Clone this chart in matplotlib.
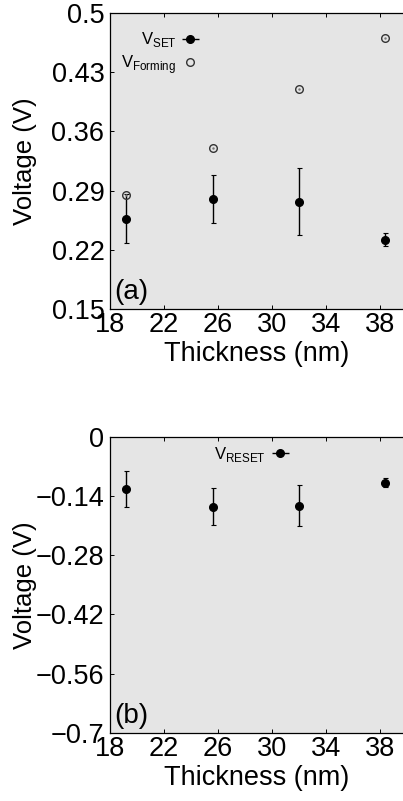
import matplotlib
matplotlib.use("Agg")
import matplotlib.pyplot as plt
from matplotlib.ticker import FuncFormatter

plt.rcParams['font.family'] = ['Liberation Sans', 'DejaVu Sans']

# thickness of the films (nm)
thick = [19.2, 25.6, 32.0, 38.4]

# panel (a): set and forming voltages
v_set = [0.257, 0.280, 0.277, 0.232]
v_set_err = [0.029, 0.028, 0.040, 0.008]
v_forming = [0.285, 0.340, 0.410, 0.470]

# panel (b): reset voltage
v_reset = [-0.124, -0.165, -0.163, -0.109]
v_reset_err = [0.042, 0.043, 0.048, 0.011]

a_ticks = [0.15, 0.22, 0.29, 0.36, 0.43, 0.5]
b_ticks = [-0.7, -0.56, -0.42, -0.28, -0.14, 0]
x_ticks = [18, 22, 26, 30, 34, 38]


def fmt(v, pos):
    return ('%g' % round(v, 2)).replace('-', '\u2212')


fig = plt.figure(figsize=(4.03, 8.01), dpi=100)
ax1 = fig.add_axes([0.273, 0.6142, 0.727, 0.3696])
ax2 = fig.add_axes([0.273, 0.0849, 0.727, 0.3699])

for ax in (ax1, ax2):
    ax.set_facecolor('#e5e5e5')
    ax.set_xlim(18, 39.7)
    ax.set_xticks(x_ticks)
    ax.spines['right'].set_visible(False)
    for s in ('left', 'bottom', 'top'):
        ax.spines[s].set_linewidth(0.9)
    ax.tick_params(direction='in', length=3, width=0.7, top=True, labelsize=19.5, pad=2)
    ax.tick_params(axis='y', pad=4)
    ax.yaxis.set_major_formatter(FuncFormatter(fmt))
    ax.set_xlabel('Thickness (nm)', fontsize=19.5, labelpad=2)
    ax.set_ylabel('Voltage (V)', fontsize=18.5)
    ax.yaxis.set_label_coords(-0.249, 0.5)

# (a)
ax1.errorbar(thick, v_set, yerr=v_set_err, fmt='o', color='black', ms=5.5,
             elinewidth=1, capsize=1.8, capthick=0.8)
ax1.plot(thick, v_forming, 'o', mfc='none', mec='#333333', mew=1, ms=5.5)
ax1.plot(thick, v_forming, '.', color='#777777', ms=1.5)
ax1.set_ylim(0.15, 0.5)
ax1.set_yticks(a_ticks)
h_set = ax1.errorbar([], [], xerr=[], fmt='o', color='black', ms=5.5,
                     elinewidth=1, capsize=1.8, capthick=0.8)
h_form, = ax1.plot([], [], 'o', mfc='none', mec='#333333', mew=1, ms=5.5)
ax1.legend([h_set, h_form], ['V$_{\\mathregular{SET}}$', 'V$_{\\mathregular{Forming}}$'],
           loc='upper left', bbox_to_anchor=(0.003, 0.975), frameon=False,
           markerfirst=False, fontsize=12, handlelength=1.2, handletextpad=0.25,
           labelspacing=0.2, borderaxespad=0.2)
ax1.text(0.015, 0.015, '(a)', transform=ax1.transAxes, fontsize=20, va='bottom', ha='left')

# (b)
ax2.errorbar(thick, v_reset, yerr=v_reset_err, fmt='o', color='black', ms=5.5,
             elinewidth=1, capsize=1.8, capthick=0.8)
ax2.set_ylim(-0.7, 0)
ax2.set_yticks(b_ticks)
h_reset = ax2.errorbar([], [], xerr=[], fmt='o', color='black', ms=5.5,
                       elinewidth=1, capsize=1.8, capthick=0.8)
ax2.legend([h_reset], ['V$_{\\mathregular{RESET}}$'], loc='upper center',
           bbox_to_anchor=(0.486, 1.005), frameon=False, markerfirst=False,
           fontsize=12, handlelength=1.2, handletextpad=0.25, borderaxespad=0.2)
ax2.text(0.015, 0.015, '(b)', transform=ax2.transAxes, fontsize=20, va='bottom', ha='left')

fig.savefig('out.png', dpi=100)
